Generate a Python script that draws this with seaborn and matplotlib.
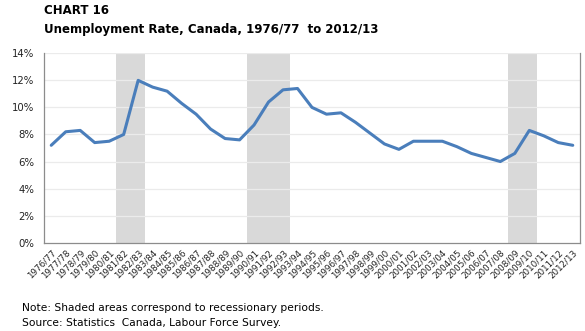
import matplotlib
matplotlib.use("Agg")
import matplotlib.pyplot as plt
import seaborn as sns
import numpy as np
import pandas as pd
from matplotlib.ticker import FixedLocator, PercentFormatter

years = ["1976/77", "1977/78", "1978/79", "1979/80", "1980/81", "1981/82", "1982/83",
         "1983/84", "1984/85", "1985/86", "1986/87", "1987/88", "1988/89", "1989/90",
         "1990/91", "1991/92", "1992/93", "1993/94", "1994/95", "1995/96", "1996/97",
         "1997/98", "1998/99", "1999/00", "2000/01", "2001/02", "2002/03", "2003/04",
         "2004/05", "2005/06", "2006/07", "2007/08", "2008/09", "2009/10", "2010/11",
         "2011/12", "2012/13"]
rate = [7.2, 8.2, 8.3, 7.4, 7.5, 8.0, 12.0, 11.5, 11.2, 10.3, 9.5, 8.4, 7.7, 7.6,
        8.7, 10.4, 11.3, 11.4, 10.0, 9.5, 9.6, 8.9, 8.1, 7.3, 6.9, 7.5, 7.5, 7.5,
        7.1, 6.6, 6.3, 6.0, 6.6, 8.3, 7.9, 7.4, 7.2]
recessions = [("1981/82", "1982/83"), ("1990/91", "1992/93"), ("2008/09", "2009/10")]
y_ticks = [0, 2, 4, 6, 8, 10, 12, 14]

df = pd.DataFrame({"year": years, "rate": rate, "pos": np.arange(len(years))})

sns.set_style("white")
plt.rcParams["font.family"] = ["DejaVu Sans"]

fig = plt.figure(figsize=(5.85, 3.31), dpi=100)
ax = fig.add_axes([44/585, 1-242.7/331, (580-44)/585, (242.7-53.3)/331])

for a, b in recessions:
    i0 = years.index(a); i1 = years.index(b)
    ax.axvspan(i0 - 0.5, i1 + 0.5, color="#d9d9d9", lw=0, zorder=0)

for t in y_ticks[1:]:
    ax.axhline(t, color="#ebebeb", lw=0.9, zorder=0.5)

sns.lineplot(data=df, x="pos", y="rate", ax=ax, color="#4a7ebb", lw=2.2, zorder=3)

ax.set_xlim(-0.5, len(years) - 0.5)
ax.set_ylim(0, 14)
ax.set_yticks(y_ticks)
ax.yaxis.set_major_formatter(PercentFormatter(decimals=0))
ax.set_xticks(df["pos"])
ax.set_xticklabels(years, rotation=45, ha="right", rotation_mode="anchor", fontsize=6.3, color="#222222")
ax.xaxis.set_minor_locator(FixedLocator(np.arange(-0.5, len(years), 1.0)))
ax.tick_params(axis="x", which="major", length=0, pad=4)
ax.tick_params(axis="x", which="minor", length=4, width=0.8, color="#888888", direction="out")
ax.tick_params(axis="y", length=4, width=0.8, color="#888888", direction="out", labelsize=7.3, labelcolor="#222222", pad=3)
ax.set_xlabel("")
ax.set_ylabel("")

for s in ["left", "bottom", "right"]:
    ax.spines[s].set_visible(True)
    ax.spines[s].set_color("#8c8c8c")
    ax.spines[s].set_linewidth(0.9)
ax.spines["top"].set_visible(False)

fig.text(44/585, 1-10/331, "CHART 16", fontsize=8.5, fontweight="bold", ha="left", va="center", color="black")
fig.text(44/585, 1-29/331, "Unemployment Rate, Canada, 1976/77  to 2012/13", fontsize=8.5,
         fontweight="bold", ha="left", va="center", color="black")
fig.text(22/585, 1-308/331, "Note: Shaded areas correspond to recessionary periods.", fontsize=7.7,
         ha="left", va="center", color="black")
fig.text(22/585, 1-323/331, "Source: Statistics  Canada, Labour Force Survey.", fontsize=7.7,
         ha="left", va="center", color="black")

fig.savefig("out.png", dpi=100)
